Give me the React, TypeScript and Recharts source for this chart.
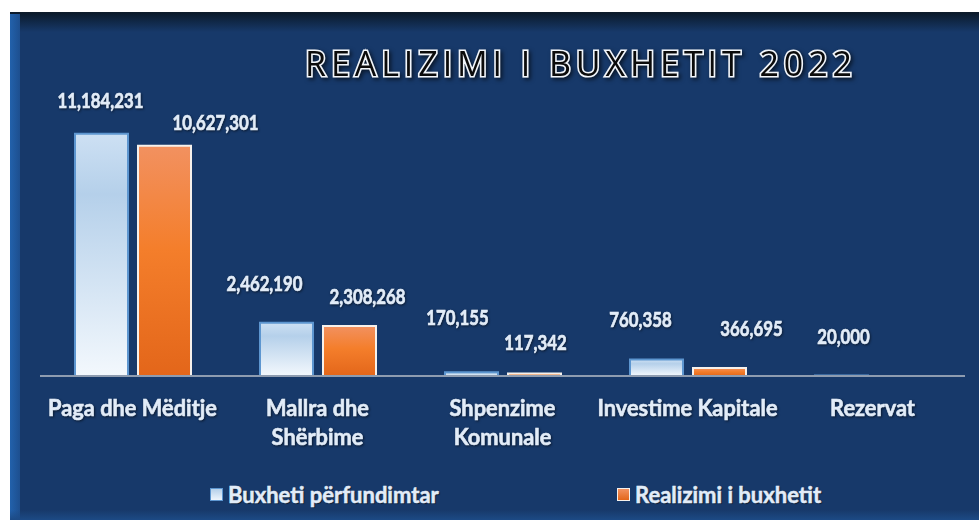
import { BarChart, Bar, XAxis, YAxis, LabelList } from 'recharts';

const categories = ['Paga dhe Mëditje', 'Mallra dhe\nShërbime', 'Shpenzime\nKomunale', 'Investime Kapitale', 'Rezervat'];
const buxhetiPerfundimtar = [11184231, 2462190, 170155, 760358, 20000];
const realizimiBuxhetit = [10627301, 2308268, 117342, 366695, 0];
const seriesNames = ['Buxheti përfundimtar', 'Realizimi i buxhetit'];
const title = 'REALIZIMI I BUXHETIT 2022';

const data = categories.map((c, i) => ({
  name: c,
  plan: buxhetiPerfundimtar[i],
  real: realizimiBuxhetit[i],
}));

// manual label nudges (relative to bar top centre), as in the original sheet
const planShift = [[-1, -33], [-22, -39], [-14, -54], [-16, -40], [2, -39]];
const realShift = [[51, -23], [18, -29], [1, -30], [32, -39], [0, 0]];

const FONT = "Lato, 'Open Sans', sans-serif";
const TEXT = '#e2ecf8';
const SHADOW = 'drop-shadow(1px 1px 1px rgba(0,0,0,0.55))';
const fmt = (v: number) => v.toLocaleString('en-US');

const makeLabel = (shift: number[][]) => (props: any) => {
  const { x, y, width, value, index } = props;
  if (!value) return null;
  const [dx, dy] = shift[index];
  const cx = x + width / 2 + dx;
  const cy = y + dy + 7;
  return (
    <text
      transform={`translate(${cx},${cy}) scale(0.8,1)`}
      x={0}
      y={0}
      textAnchor="middle"
      fontFamily={FONT}
      fontWeight="bold"
      fontSize={21}
      fill={TEXT}
      stroke={TEXT}
      strokeWidth={0.7}
      style={{ filter: SHADOW }}
    >
      {fmt(value)}
    </text>
  );
};

const CategoryTick = (props: any) => {
  const { x, y, payload } = props;
  const lines = String(payload.value).split('\n');
  return (
    <g style={{ filter: SHADOW }}>
      {lines.map((l, i) => (
        <text
          key={i}
          transform={`translate(${x},${y + 40 + i * 29}) scale(0.97,1)`}
          x={0}
          y={0}
          textAnchor="middle"
          fontFamily={FONT}
          fontWeight="bold"
          fontSize={22.5}
          fill={TEXT}
          stroke={TEXT}
          strokeWidth={0.6}
        >
          {l}
        </text>
      ))}
    </g>
  );
};

export default function App() {
  return (
    <div style={{ position: 'absolute', left: 0, top: 0, width: 979, height: 520, background: '#fff', overflow: 'hidden' }}>
      <div style={{ position: 'absolute', left: 10, top: 12, width: 969, height: 508, background: '#17396a', borderTop: '1px solid #9aa3ad' }} />
      <div style={{ position: 'absolute', left: 10, top: 12, width: 969, height: 20, background: 'linear-gradient(#0a1827, rgba(23,57,106,0))' }} />
      <div style={{ position: 'absolute', left: 10, top: 14, width: 10, height: 506, background: 'linear-gradient(90deg, #2261ab, #1d4f8f)' }} />
      <div style={{ position: 'absolute', left: 10, top: 510, width: 969, height: 10, background: 'linear-gradient(rgba(23,57,106,0), #1c4a85)' }} />

      <svg width={979} height={100} style={{ position: 'absolute', left: 0, top: 0 }}>
        <text
          x={305}
          y={76}
          textLength={547}
          lengthAdjust="spacing"
          fontFamily="'Open Sans', sans-serif"
          fontSize={34}
          fill="#0b0b0b"
          stroke="#f2f6fb"
          strokeWidth={3.2}
          paintOrder="stroke"
          style={{ filter: 'drop-shadow(2px 2px 2px rgba(0,0,0,0.6))' }}
        >
          {title}
        </text>
      </svg>

      <div style={{ position: 'absolute', left: 0, top: 0 }}>
        <BarChart
          width={979}
          height={520}
          data={data}
          margin={{ top: 116, right: 14, bottom: 0, left: 40 }}
          barSize={53}
          barGap={10}
        >
          <defs>
            <linearGradient id="gPlan" x1="0" y1="0" x2="0" y2="1">
              <stop offset="0" stopColor="#cde0f3" />
              <stop offset="0.25" stopColor="#b5d0ea" />
              <stop offset="1" stopColor="#f3f8fd" />
            </linearGradient>
            <linearGradient id="gReal" x1="0" y1="0" x2="0" y2="1">
              <stop offset="0" stopColor="#f29160" />
              <stop offset="0.45" stopColor="#f47e2b" />
              <stop offset="1" stopColor="#e3661a" />
            </linearGradient>
          </defs>
          <XAxis
            dataKey="name"
            height={144}
            interval={0}
            tickLine={false}
            tickSize={0}
            tickMargin={0}
            axisLine={{ stroke: '#8e9cb0', strokeWidth: 2 }}
            tick={<CategoryTick />}
          />
          <YAxis hide domain={[0, 12000000]} />
          <Bar dataKey="plan" fill="url(#gPlan)" stroke="#5d96d0" strokeWidth={2} isAnimationActive={false}>
            <LabelList dataKey="plan" content={makeLabel(planShift)} />
          </Bar>
          <Bar dataKey="real" fill="url(#gReal)" stroke="#f6f1ec" strokeWidth={2} isAnimationActive={false}>
            <LabelList dataKey="real" content={makeLabel(realShift)} />
          </Bar>
        </BarChart>
      </div>

      {seriesNames.map((n, i) => (
        <div
          key={n}
          style={{
            position: 'absolute',
            left: i === 0 ? 210 : 617,
            top: 481,
            height: 26,
            display: 'flex',
            alignItems: 'center',
            fontFamily: FONT,
            fontWeight: 'bold',
            fontSize: 22,
            color: TEXT,
            WebkitTextStroke: '0.5px ' + TEXT,
            textShadow: '1px 1px 1px rgba(0,0,0,0.55)',
            whiteSpace: 'nowrap',
          }}
        >
          <span
            style={{
              display: 'inline-block',
              width: 11,
              height: 11,
              marginRight: 5,
              WebkitTextStroke: '0',
              border: i === 0 ? '1px solid #5d96d0' : '1px solid #f6f1ec',
              background: i === 0 ? 'linear-gradient(#b5d0ea, #eef5fc)' : 'linear-gradient(#f29160, #e3661a)',
            }}
          />
          {n}
        </div>
      ))}
    </div>
  );
}
